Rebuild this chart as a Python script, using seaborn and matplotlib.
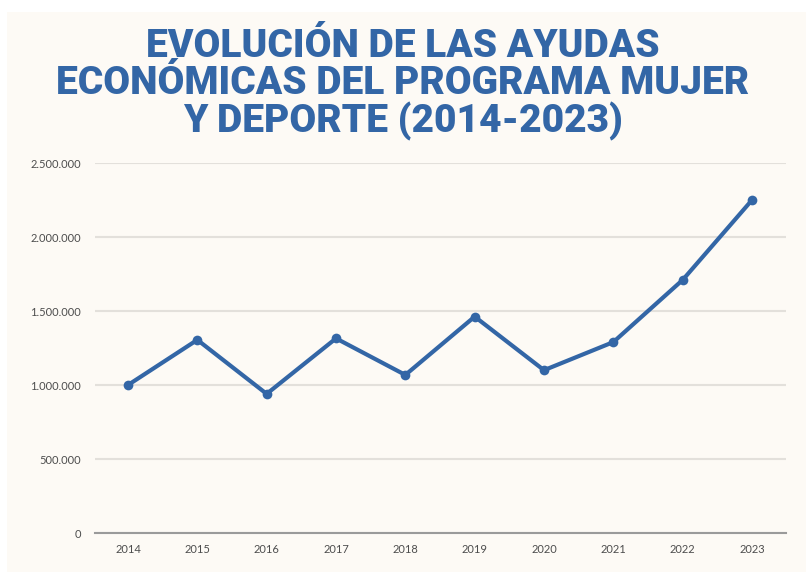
import matplotlib
matplotlib.use('Agg')
import matplotlib.pyplot as plt
import matplotlib.patches as patches
from matplotlib.ticker import FuncFormatter
import seaborn as sns
import pandas as pd

# Data
years = [2014, 2015, 2016, 2017, 2018, 2019, 2020, 2021, 2022, 2023]
amounts = [1000000, 1305000, 940000, 1315000, 1068000, 1462000, 1100000, 1290000, 1710000, 2250000]
y_ticks = [0, 500000, 1000000, 1500000, 2000000, 2500000]

title = 'EVOLUCIÓN DE LAS AYUDAS\nECONÓMICAS DEL PROGRAMA MUJER\nY DEPORTE (2014-2023)'

df = pd.DataFrame({'Año': years, 'Ayudas': amounts})

blue = '#3366a6'
cream = '#fdfaf5'

sns.set_style('white')
plt.rcParams['font.family'] = ['Lato', 'DejaVu Sans']

fig = plt.figure(figsize=(8.06, 5.72), dpi=100)
fig.patch.set_facecolor('white')
# cream panel behind everything
fig.patches.append(patches.Rectangle((7 / 806, 0), 1, 1 - 12 / 572, transform=fig.transFigure,
                                     facecolor=cream, edgecolor='none', zorder=-10))

ax = fig.add_axes([95 / 806, 1 - 533 / 572, (786 - 95) / 806, (533 - 163) / 572])
ax.set_facecolor(cream)
ax.patch.set_alpha(0)

sns.lineplot(data=df, x='Año', y='Ayudas', ax=ax, color=blue, linewidth=3,
             marker='o', markersize=7, markeredgewidth=0, zorder=3)

ax.set_xlim(2013.524, 2023.49)
ax.set_ylim(0, 2500000)
ax.set_xticks(years)
ax.set_xticklabels([str(y) for y in years])
ax.set_yticks(y_ticks)
ax.yaxis.set_major_formatter(FuncFormatter(lambda v, p: f'{v:,.0f}'.replace(',', '.')))
ax.tick_params(axis='both', length=0, labelsize=8, labelcolor='#4d4d4d')
ax.tick_params(axis='y', pad=10)
ax.tick_params(axis='x', pad=8)

ax.grid(axis='y', color='#e3e0db', linewidth=1.5)
ax.set_axisbelow(True)
for s in ['top', 'right', 'left']:
    ax.spines[s].set_visible(False)
ax.spines['bottom'].set_color('#9a9a9a')
ax.spines['bottom'].set_linewidth(1.5)
ax.set_xlabel('')
ax.set_ylabel('')

fig.text(0.5, 0.951, title, ha='center', va='top', color=blue, fontsize=28,
         fontweight='heavy', family=['Roboto', 'DejaVu Sans'], linespacing=1.0)

plt.savefig('out.png', dpi=100)
